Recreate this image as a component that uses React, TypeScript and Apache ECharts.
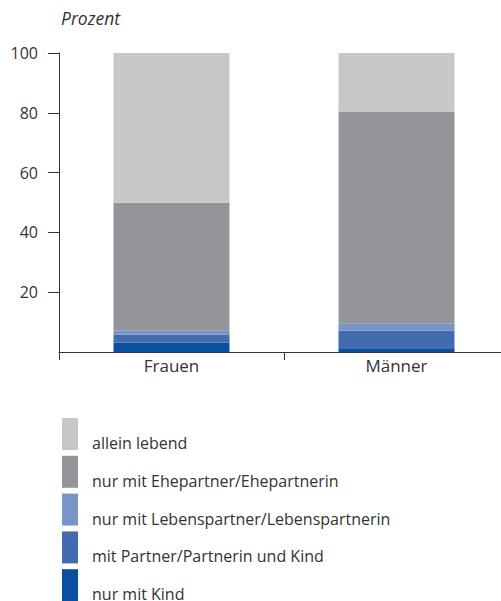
import React, { useEffect, useRef } from "react";
import * as echarts from "echarts";

const categories = ["Frauen", "Männer"];
const seriesNames = [
  "nur mit Kind",
  "mit Partner/Partnerin und Kind",
  "nur mit Lebenspartner/Lebenspartnerin",
  "nur mit Ehepartner/Ehepartnerin",
  "allein lebend",
];
const nurMitKind = [3.2, 1.0];
const partnerUndKind = [2.6, 6.1];
const lebenspartner = [1.5, 2.5];
const ehepartner = [42.6, 70.8];
const alleinLebend = [50.1, 19.6];
const seriesValues = [nurMitKind, partnerUndKind, lebenspartner, ehepartner, alleinLebend];
const seriesColors = ["#0b509e", "#436bb0", "#7a94c8", "#939598", "#c6c7c9"];
const yTicks = [20, 40, 60, 80, 100];
const legendOrder = [
  "allein lebend",
  "nur mit Ehepartner/Ehepartnerin",
  "nur mit Lebenspartner/Lebenspartnerin",
  "mit Partner/Partnerin und Kind",
  "nur mit Kind",
];

const FONT = "Open Sans";

export default function App() {
  const ref = useRef<HTMLDivElement>(null);
  useEffect(() => {
    document.body.style.margin = "0";
    const chart = echarts.init(ref.current!, null, { renderer: "svg" });
    chart.setOption({
      animation: false,
      title: {
        text: "Prozent",
        left: 61,
        top: 9,
        padding: 0,
        textStyle: { fontFamily: FONT, fontSize: 17.5, fontStyle: "italic", fontWeight: "normal", color: "#333" },
      },
      grid: { left: 59, top: 53, width: 450, height: 299 },
      legend: {
        orient: "vertical",
        left: 62,
        top: 417,
        height: 200,
        padding: 0,
        itemWidth: 16,
        itemHeight: 32,
        itemGap: 3.8,
        icon: "rect",
        data: legendOrder,
        selectedMode: false,
        formatter: "{t|{name}}",
        textStyle: {
          fontFamily: FONT,
          fontSize: 16,
          color: "#333",
          rich: {
            t: { fontFamily: FONT, fontSize: 16, lineHeight: 14, color: "#333", padding: [18, 0, 0, 9] },
          },
        },
      },
      xAxis: {
        type: "category",
        data: categories,
        axisLine: { lineStyle: { color: "#333", width: 1 } },
        axisTick: { show: true, length: 8, lineStyle: { color: "#333" } },
        axisLabel: { fontFamily: FONT, fontSize: 17, color: "#333", margin: 5 },
      },
      yAxis: {
        type: "value",
        min: 0,
        max: 100,
        interval: 20,
        splitLine: { show: false },
        axisLine: { show: true, lineStyle: { color: "#333", width: 1 } },
        axisTick: { show: true, length: 11, customValues: yTicks, lineStyle: { color: "#333" } },
        axisLabel: { fontFamily: FONT, fontSize: 16, color: "#333", margin: 21, customValues: yTicks },
      },
      series: seriesNames.map((name, i) => ({
        name,
        type: "bar",
        stack: "total",
        barWidth: 116,
        data: seriesValues[i],
        itemStyle: { color: seriesColors[i] },
      })),
    });
    return () => chart.dispose();
  }, []);
  return (
    <div style={{ width: 501, height: 601, overflow: "hidden" }}>
      <div ref={ref} style={{ width: 512, height: 601 }} />
    </div>
  );
}
